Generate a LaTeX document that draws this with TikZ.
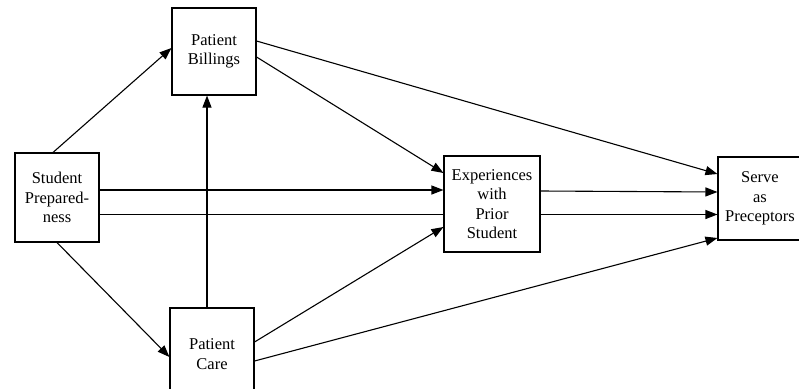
\documentclass[tikz,border=0pt]{standalone}
\usepackage{fontspec}
\setmainfont{Liberation Serif}
\usetikzlibrary{arrows.meta,backgrounds}
\tikzset{
  box/.style={draw, line width=1.1pt, fill=white, inner sep=0pt, align=center,
    font=\fontsize{16.5}{19.5}\selectfont},
  link/.style={line width=1.1pt, -{Triangle[length=12pt,width=9pt]}},
  plain/.style={line width=1.1pt}
}
\begin{document}
\begin{tikzpicture}[x=1pt,y=-1pt]
\clip (0,0) rectangle (799,388);
\node[box, minimum width=84pt, minimum height=89pt] (SP) at (57,197.5) {Student\\Prepared-\\ness};
\node[box, minimum width=84pt, minimum height=87pt] (PB) at (214,51.5) {Patient\\Billings};
\node[box, minimum width=84pt, minimum height=92pt] (PC) at (212,354) {Patient\\Care};
\node[box, minimum width=96pt, minimum height=96pt] (EX) at (492,204) {Experiences\\with\\Prior\\Student};
\node[box, minimum width=84pt, minimum height=83pt] (SV) at (760,198.5) {Serve\\as\\Preceptors};
\draw[link] ([xshift=-4pt]SP.north) -- ([yshift=3.5pt]PB.west);
\draw[link] (SP.south) -- ([yshift=-3pt]PC.west);
\draw[link] ([yshift=7.5pt]SP.east) -- ([yshift=14pt]EX.west);
\begin{pgfonlayer}{background}
\draw[link] ([yshift=-17pt]SP.east) -- ([yshift=-16pt]SV.west);
\end{pgfonlayer}
\draw[link] ([xshift=-5pt]PC.north) -- ([xshift=-7pt]PB.south);
\draw[link] ([yshift=-5.5pt]PB.east) -- ([yshift=31pt]EX.west);
\draw[link] ([yshift=10.5pt]PB.east) -- ([yshift=24.5pt]SV.west);
\draw[link] ([yshift=12pt]PC.east) -- ([yshift=-23pt]EX.west);
\draw[link] ([yshift=-7pt]PC.east) -- ([yshift=-39.5pt]SV.west);
\draw[link] ([yshift=13pt]EX.east) -- ([yshift=6.5pt]SV.west);
\end{tikzpicture}
\end{document}
